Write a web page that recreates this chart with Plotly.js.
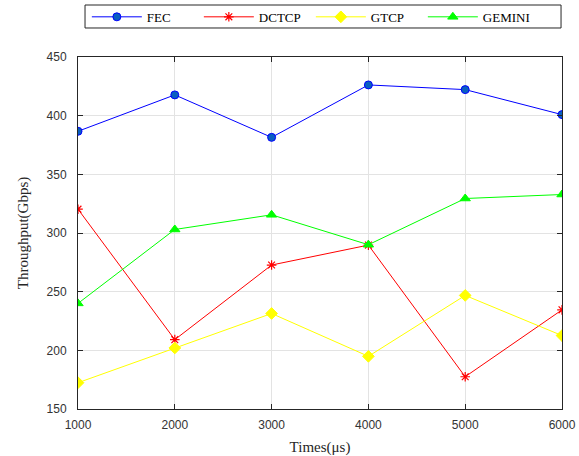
<!DOCTYPE html>
<html><head><meta charset="utf-8">
<script src="https://cdn.plot.ly/plotly-3.0.1.min.js"></script>
<style>html,body{margin:0;padding:0;background:#fff}#chart{width:579px;height:456px}</style>
</head><body><div id="chart"></div>
<script>
const times = [1000, 2000, 3000, 4000, 5000, 6000];
const fec = [386.7, 417.7, 381.5, 426.2, 422.2, 400.9];
const dctcp = [320.3, 209.1, 272.7, 289.7, 177.5, 234.5];
const gtcp = [172.4, 202.0, 231.4, 194.9, 246.8, 212.6];
const gemini = [240.0, 303.0, 315.5, 290.0, 329.4, 332.8];
const seriesNames = ['FEC', 'DCTCP', 'GTCP', 'GEMINI'];
const xTicks = [1000, 2000, 3000, 4000, 5000, 6000];
const yTicks = [150, 200, 250, 300, 350, 400, 450];

const traces = [
  {x: times, y: fec, name: seriesNames[0], mode: 'lines+markers',
   line: {color: '#0000ff', width: 1},
   marker: {symbol: 'circle', size: 8, color: '#0a5fc0', line: {color: '#0000ff', width: 1}}},
  {x: times, y: dctcp, name: seriesNames[1], mode: 'lines+markers',
   line: {color: '#ff0000', width: 1},
   marker: {symbol: 'asterisk-open', size: 8, color: '#ff0000', line: {color: '#ff0000', width: 1.2}}},
  {x: times, y: gtcp, name: seriesNames[2], mode: 'lines+markers',
   line: {color: '#ffff00', width: 1},
   marker: {symbol: 'diamond', size: 9, color: '#ffff00', line: {color: '#ffff00', width: 1}}},
  {x: times, y: gemini, name: seriesNames[3], mode: 'lines+markers',
   line: {color: '#00ff00', width: 1},
   marker: {symbol: 'triangle-up', size: 9, color: '#00ff00', line: {color: '#00ff00', width: 1}}}
];

const axisCommon = {
  showline: true, linecolor: '#262626', linewidth: 1, mirror: 'ticks',
  ticks: 'inside', ticklen: 5, tickcolor: '#262626',
  showgrid: true, gridcolor: '#e3e3e3', gridwidth: 1, zeroline: false, automargin: false,
  tickfont: {family: 'Liberation Sans, Arial, sans-serif', size: 12, color: '#333333'}
};

const layout = {
  width: 579, height: 456,
  margin: {l: 78, r: 17, t: 57, b: 47, autoexpand: false},
  paper_bgcolor: '#ffffff', plot_bgcolor: '#ffffff',
  showlegend: true,
  legend: {orientation: 'h', xref: 'container', yref: 'container', x: 0.150, xanchor: 'left', y: 0.963, yanchor: 'middle',
    font: {family: 'Liberation Serif, Times New Roman, serif', size: 13, color: '#000'},
    bgcolor: 'rgba(0,0,0,0)', borderwidth: 0, itemwidth: 50, entrywidth: 47, entrywidthmode: 'pixels'},
  shapes: [{type: 'rect', xref: 'paper', yref: 'paper', x0: 0.0145, x1: 0.998, y0: 1.0824, y1: 1.1477,
    line: {color: '#262626', width: 1}, fillcolor: 'rgba(0,0,0,0)'}],
  xaxis: Object.assign({}, axisCommon, {range: [1000, 6000], tickvals: xTicks, ticklabelstandoff: 5,
    title: {text: 'Times(μs)', font: {family: 'Liberation Serif, Times New Roman, serif', size: 15, color: '#262626'}, standoff: 10}}),
  yaxis: Object.assign({}, axisCommon, {range: [150, 450], tickvals: yTicks, ticklabelstandoff: 8,
    title: {text: 'Throughput(Gbps)', font: {family: 'Liberation Serif, Times New Roman, serif', size: 15, color: '#262626'}, standoff: 14}})
};

Plotly.newPlot('chart', traces, layout, {displayModeBar: false, staticPlot: true});
</script></body></html>
